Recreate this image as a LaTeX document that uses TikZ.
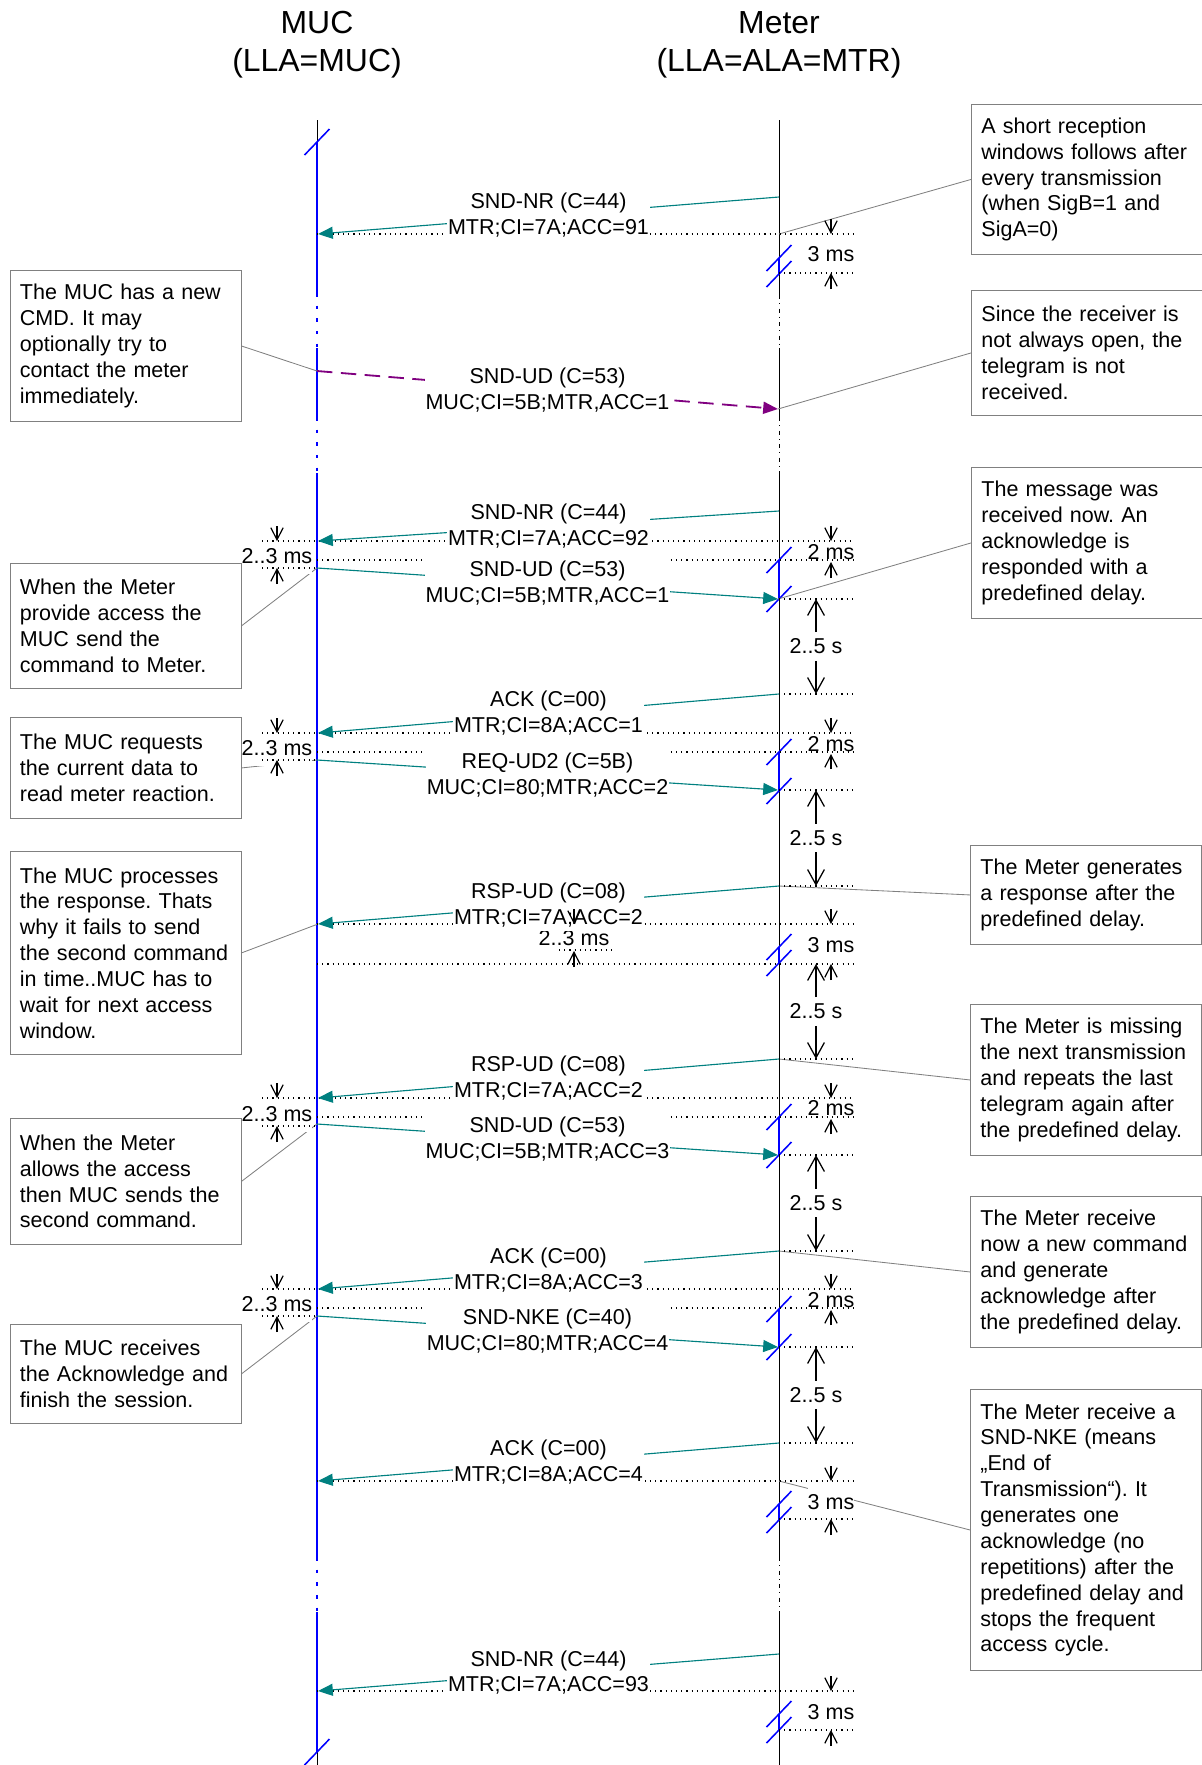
\documentclass[tikz,border=0pt]{standalone}
\usepackage{fontspec}
\setmainfont{Liberation Sans}
\usetikzlibrary{arrows.meta, calc}
\frenchspacing

\definecolor{mucblue}{RGB}{0,0,255}
\definecolor{tgteal}{RGB}{0,128,128}
\definecolor{lostpurple}{RGB}{128,0,128}
\definecolor{notegrey}{RGB}{128,128,128}

\newcommand{\txtfont}{\fontsize{15.3}{18.4}\selectfont}
\newcommand{\headfont}{\fontsize{22.7}{27.3}\selectfont}

\tikzstyle{headtext} = [align=center, inner sep=0pt, anchor=north, font=\headfont]
\tikzstyle{notebox} = [rectangle, draw=notegrey, line width=0.6pt, anchor=north west, text width=5.275cm, inner xsep=0.25cm, inner ysep=0pt, align=left, font=\txtfont]
\tikzstyle{noteline} = [draw=notegrey, line width=0.6pt]
\tikzstyle{tgline} = [draw=tgteal, line width=0.8pt, -{Triangle[length=0.37cm,width=0.3cm]}]
\tikzstyle{lostline} = [draw=lostpurple, line width=1.3pt, dash pattern=on 11pt off 6pt, -{Triangle[length=0.37cm,width=0.3cm]}]
\tikzstyle{tglabel} = [fill=white, align=center, inner xsep=0.5pt, inner ysep=3pt, font=\txtfont]
\tikzstyle{guide} = [line width=0.9pt, dash pattern=on 0.8pt off 2.9pt]
\tikzstyle{mucline} = [draw=mucblue, line width=1.3pt]
\tikzstyle{mucgap} = [draw=mucblue, line width=1.3pt, dash pattern=on 2.5pt off 6.5pt]
\tikzstyle{meterline} = [line width=0.65pt]
\tikzstyle{metergap} = [line width=0.65pt, dash pattern=on 3pt off 3pt on 0.6pt off 3pt]
\tikzstyle{cut} = [draw=mucblue, line width=1.1pt]
\tikzstyle{delaylabel} = [fill=white, inner sep=0pt, minimum height=0.9cm, font=\txtfont]
\tikzstyle{delaytip} = [line width=0.85pt, -{Straight Barb[length=0.3cm,width=0.31cm]}]
\tikzstyle{waitlabel} = [fill=white, inner sep=0pt, minimum height=0.7cm, font=\txtfont]
\tikzstyle{waittip} = [line width=0.9pt, -{Straight Barb[length=0.38cm,width=0.42cm]}]

\begin{document}
\begin{tikzpicture}[x=0.025cm, y=-0.025cm]
    \useasboundingbox (0,0) rectangle (1202,1765);

    % heads
    \node [headtext] at (317,11) (muc) {MUC\\(LLA=MUC)};
    \node [headtext] at (779,11) (meter) {Meter\\(LLA=ALA=MTR)};

    % life lines
    \draw [meterline] (317,120) -- (317,142) (317,1752) -- (317,1765);
    \draw [mucline] (317,142) -- (317,293) (317,348) -- (317,417) (317,473) -- (317,1557) (317,1612) -- (317,1752);
    \draw [mucgap] (317,293) -- (317,348) (317,417) -- (317,473) (317,1557) -- (317,1612);
    \draw [meterline] (779,120) -- (779,295) (779,348) -- (779,417) (779,473) -- (779,1557) (779,1612) -- (779,1765);
    \draw [metergap] (779,295) -- (779,348) (779,417) -- (779,473) (779,1557) -- (779,1612);

    % reception windows
    \draw [mucline] (779,258) -- (779,274) (779,560) -- (779,599) (779,752) -- (779,791) (779,947) -- (779,963)
        (779,1117) -- (779,1155) (779,1309) -- (779,1347) (779,1504) -- (779,1520) (779,1714) -- (779,1730);
    \draw [cut] (304.5,155) -- ++(25,-26) (304.5,1765) -- ++(25,-26)
        (766.5,271) -- ++(25,-26) (766.5,287) -- ++(25,-26)
        (766.5,573) -- ++(25,-26) (766.5,612) -- ++(25,-26)
        (766.5,765) -- ++(25,-26) (766.5,804) -- ++(25,-26)
        (766.5,960) -- ++(25,-26) (766.5,976) -- ++(25,-26)
        (766.5,1130) -- ++(25,-26) (766.5,1168) -- ++(25,-26)
        (766.5,1322) -- ++(25,-26) (766.5,1360) -- ++(25,-26)
        (766.5,1517) -- ++(25,-26) (766.5,1533) -- ++(25,-26)
        (766.5,1727) -- ++(25,-26) (766.5,1743) -- ++(25,-26);

    % telegram end points
    \coordinate (m1s) at (779,197);   \coordinate (m1e) at (318,234);
    \coordinate (m2s) at (317,371);   \coordinate (m2e) at (778,409);
    \coordinate (m3s) at (779,511);   \coordinate (m3e) at (318,541);
    \coordinate (m4s) at (317,568);   \coordinate (m4e) at (778,599);
    \coordinate (m5s) at (779,694);   \coordinate (m5e) at (318,733);
    \coordinate (m6s) at (317,760);   \coordinate (m6e) at (778,790);
    \coordinate (m7s) at (779,886);   \coordinate (m7e) at (318,924);
    \coordinate (m8s) at (779,1059);  \coordinate (m8e) at (318,1098);
    \coordinate (m9s) at (317,1124);  \coordinate (m9e) at (778,1155);
    \coordinate (m10s) at (779,1251); \coordinate (m10e) at (318,1289);
    \coordinate (m11s) at (317,1316); \coordinate (m11e) at (778,1347);
    \coordinate (m12s) at (779,1443); \coordinate (m12e) at (318,1481);
    \coordinate (m13s) at (779,1654); \coordinate (m13e) at (318,1691);
    \coordinate (win1) at (779,234);  \coordinate (win12) at (779,1481);

    % notes
    \node [notebox, minimum height=3.775cm] at (9.5,270) (n1) {The MUC has a new\\CMD. It may\\optionally try to\\contact the meter\\immediately.};
    \node [notebox, minimum height=3.125cm] at (9.5,563) (n2) {When the Meter\\provide access the\\MUC send the\\command to Meter.};
    \node [notebox, minimum height=2.525cm] at (9.5,717) (n3) {The MUC requests\\the current data to\\read meter reaction.};
    \node [notebox, minimum height=5.075cm] at (9.5,851) (n4) {The MUC processes\\the response. Thats\\why it fails to send\\the second command\\in time..MUC has to\\wait for next access\\window.};
    \node [notebox, minimum height=3.15cm] at (9.5,1118) (n5) {When the Meter\\allows the access\\then MUC sends the\\second command.};
    \node [notebox, minimum height=2.475cm] at (9.5,1324) (n6) {The MUC receives\\the Acknowledge and\\finish the session.};
    \node [notebox, minimum height=3.75cm] at (971,104) (r1) {A short reception\\windows follows after\\every transmission\\(when SigB=1 and\\SigA=0)};
    \node [notebox, minimum height=3.125cm] at (971,290) (r2) {Since the receiver is\\not always open, the\\telegram is not\\received.};
    \node [notebox, minimum height=3.775cm] at (971,467) (r3) {The message was\\received now. An\\acknowledge is\\responded with a\\predefined delay.};
    \node [notebox, minimum height=2.475cm] at (970,845) (r4) {The Meter generates\\a response after the\\predefined delay.};
    \node [notebox, minimum height=3.775cm] at (970,1004) (r5) {The Meter is missing\\the next transmission\\and repeats the last\\telegram again after\\the predefined delay.};
    \node [notebox, minimum height=3.775cm] at (970,1196) (r6) {The Meter receive\\now a new command\\and generate\\acknowledge after\\the predefined delay.};
    \node [notebox, minimum height=7.025cm] at (970,1389) (r7) {The Meter receive a\\SND-NKE (means\\„End of\\Transmission“). It\\generates one\\acknowledge (no\\repetitions) after the\\predefined delay and\\stops the frequent\\access cycle.};

    \draw [noteline] (n1.east) -- (m2s);
    \draw [noteline] (n2.east) -- (m4s);
    \draw [noteline] (n3.east) -- (m6s);
    \draw [noteline] (n4.east) -- (m7e);
    \draw [noteline] (n5.east) -- (m9s);
    \draw [noteline] (n6.east) -- (m11s);
    \draw [noteline] (r1.west) -- (win1);
    \draw [noteline] (r2.west) -- (m2e);
    \draw [noteline] (r3.west) -- (m4e);
    \draw [noteline] (r4.west) -- (m7s);
    \draw [noteline] (r5.west) -- (m8s);
    \draw [noteline] (r6.west) -- (m10s);
    \draw [noteline] (r7.west) -- (win12);

    % delay labels
    \node [delaylabel] at (831,254) (d1) {3 ms};
    \node [delaylabel] at (831,552) (d3r) {2 ms};
    \node [delaylabel] at (277,556) (d3l) {2..3 ms};
    \node [delaylabel] at (831,744) (d5r) {2 ms};
    \node [delaylabel] at (277,748) (d5l) {2..3 ms};
    \node [delaylabel] at (574,938) (d7m) {2..3 ms};
    \node [delaylabel] at (831,945) (d7r) {3 ms};
    \node [delaylabel] at (831,1108) (d8r) {2 ms};
    \node [delaylabel] at (277,1114) (d8l) {2..3 ms};
    \node [delaylabel] at (831,1300) (d10r) {2 ms};
    \node [delaylabel] at (277,1304) (d10l) {2..3 ms};
    \node [delaylabel] at (831,1502) (d12) {3 ms};
    \node [delaylabel] at (831,1712) (d13) {3 ms};
    \node [waitlabel] at (816,646.5) (w1) {2..5 s};
    \node [waitlabel] at (816,838) (w2) {2..5 s};
    \node [waitlabel] at (816,1011.5) (w3) {2..5 s};
    \node [waitlabel] at (816,1203) (w4) {2..5 s};
    \node [waitlabel] at (816,1395) (w5) {2..5 s};

    % dotted guides
    \draw [guide] (317,234) -- (855,234) (779,273) -- (855,273)
        (262,541) -- (855,541) (262,568) -- (317,568) (317,560) -- (855,560) (779,599) -- (855,599) (779,694) -- (855,694)
        (262,733) -- (855,733) (262,760) -- (317,760) (317,752) -- (855,752) (779,790) -- (855,790) (779,886) -- (855,886)
        (317,924) -- (855,924) (559,950) -- (613,950) (317,964) -- (855,964) (779,1059) -- (855,1059)
        (262,1098) -- (855,1098) (262,1126) -- (317,1126) (317,1117) -- (855,1117) (779,1155) -- (855,1155) (779,1251) -- (855,1251)
        (262,1289) -- (855,1289) (262,1316) -- (317,1316) (317,1308) -- (855,1308) (779,1347) -- (855,1347) (779,1443) -- (855,1443)
        (317,1481) -- (855,1481) (779,1519) -- (855,1519) (317,1691) -- (855,1691) (779,1730) -- (855,1730);

    % telegrams
    \draw [tgline] (m1s) -- (m1e);
    \draw [lostline] (m2s) -- (m2e);
    \draw [tgline] (m3s) -- (m3e);
    \draw [tgline] (m4s) -- (m4e);
    \draw [tgline] (m5s) -- (m5e);
    \draw [tgline] (m6s) -- (m6e);
    \draw [tgline] (m7s) -- (m7e);
    \draw [tgline] (m8s) -- (m8e);
    \draw [tgline] (m9s) -- (m9e);
    \draw [tgline] (m10s) -- (m10e);
    \draw [tgline] (m11s) -- (m11e);
    \draw [tgline] (m12s) -- (m12e);
    \draw [tgline] (m13s) -- (m13e);

    \node [tglabel] at ($(m1s)!0.5!(m1e)$) (t1) {SND-NR (C=44)\\MTR;CI=7A;ACC=91};
    \node [tglabel] at ($(m2s)!0.5!(m2e)$) (t2) {SND-UD (C=53)\\MUC;CI=5B;MTR,ACC=1};
    \node [tglabel] at ($(m3s)!0.5!(m3e)$) (t3) {SND-NR (C=44)\\MTR;CI=7A;ACC=92};
    \node [tglabel] at ($(m4s)!0.5!(m4e)$) (t4) {SND-UD (C=53)\\MUC;CI=5B;MTR,ACC=1};
    \node [tglabel] at ($(m5s)!0.5!(m5e)$) (t5) {ACK (C=00)\\MTR;CI=8A;ACC=1};
    \node [tglabel] at ($(m6s)!0.5!(m6e)$) (t6) {REQ-UD2 (C=5B)\\MUC;CI=80;MTR;ACC=2};
    \node [tglabel] at ($(m7s)!0.5!(m7e)$) (t7) {RSP-UD (C=08)\\MTR;CI=7A;ACC=2};
    \node [tglabel] at ($(m8s)!0.5!(m8e)$) (t8) {RSP-UD (C=08)\\MTR;CI=7A;ACC=2};
    \node [tglabel] at ($(m9s)!0.5!(m9e)$) (t9) {SND-UD (C=53)\\MUC;CI=5B;MTR;ACC=3};
    \node [tglabel] at ($(m10s)!0.5!(m10e)$) (t10) {ACK (C=00)\\MTR;CI=8A;ACC=3};
    \node [tglabel] at ($(m11s)!0.5!(m11e)$) (t11) {SND-NKE (C=40)\\MUC;CI=80;MTR;ACC=4};
    \node [tglabel] at ($(m12s)!0.5!(m12e)$) (t12) {ACK (C=00)\\MTR;CI=8A;ACC=4};
    \node [tglabel] at ($(m13s)!0.5!(m13e)$) (t13) {SND-NR (C=44)\\MTR;CI=7A;ACC=93};

    % delay arrows
    \draw [delaytip] (831,219) -- (831,234);
    \draw [delaytip] (831,289) -- (831,273);
    \draw [delaytip] (831,526) -- (831,541);
    \draw [delaytip] (831,578) -- (831,562);
    \draw [delaytip] (277,526) -- (277,541);
    \draw [delaytip] (277,584) -- (277,568);
    \draw [delaytip] (831,718) -- (831,733);
    \draw [delaytip] (831,769) -- (831,754);
    \draw [delaytip] (277,718) -- (277,733);
    \draw [delaytip] (277,776) -- (277,760);
    \draw [delaytip] (574,909) -- (574,924);
    \draw [delaytip] (574,967) -- (574,951);
    \draw [delaytip] (831,909) -- (831,924);
    \draw [delaytip] (831,980) -- (831,964);
    \draw [delaytip] (831,1083) -- (831,1098);
    \draw [delaytip] (831,1134) -- (831,1119);
    \draw [delaytip] (277,1083) -- (277,1098);
    \draw [delaytip] (277,1142) -- (277,1126);
    \draw [delaytip] (831,1274) -- (831,1289);
    \draw [delaytip] (831,1325) -- (831,1310);
    \draw [delaytip] (277,1274) -- (277,1289);
    \draw [delaytip] (277,1332) -- (277,1316);
    \draw [delaytip] (831,1466) -- (831,1481);
    \draw [delaytip] (831,1535) -- (831,1519);
    \draw [delaytip] (831,1676) -- (831,1691);
    \draw [delaytip] (831,1746) -- (831,1730);

    \draw [waittip] (w1.north) -- (816,599);
    \draw [waittip] (w1.south) -- (816,694);
    \draw [waittip] (w2.north) -- (816,790);
    \draw [waittip] (w2.south) -- (816,886);
    \draw [waittip] (w3.north) -- (816,964);
    \draw [waittip] (w3.south) -- (816,1059);
    \draw [waittip] (w4.north) -- (816,1155);
    \draw [waittip] (w4.south) -- (816,1251);
    \draw [waittip] (w5.north) -- (816,1347);
    \draw [waittip] (w5.south) -- (816,1443);
\end{tikzpicture}
\end{document}
